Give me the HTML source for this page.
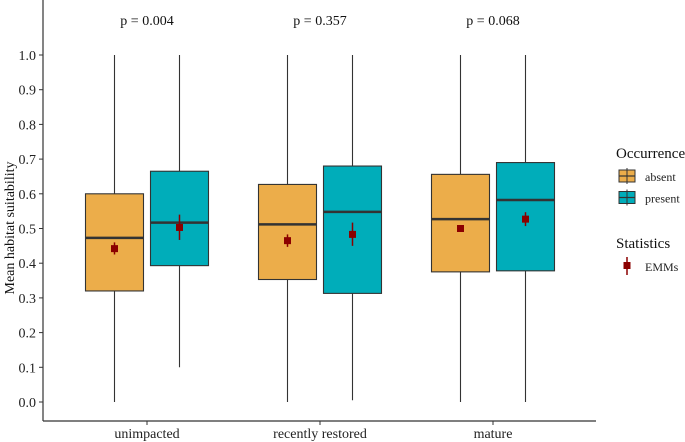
<!DOCTYPE html>
<html><head><meta charset="utf-8"><style>
body{margin:0;background:#fff}
svg{font-family:"Liberation Serif",serif;display:block}
</style></head><body>
<svg id="chart" width="685" height="442"></svg>
<script>
const categories=["unimpacted","recently restored","mature"];
const pvalues=["p = 0.004","p = 0.357","p = 0.068"];
const groups=["absent","present"];
const whiskLo=[[0,0.10],[0,0.005],[0,0]];
const whiskHi=[[1,1],[1,1],[1,1]];
const q1=[[0.32,0.393],[0.353,0.313],[0.375,0.378]];
const med=[[0.473,0.517],[0.512,0.548],[0.527,0.582]];
const q3=[[0.60,0.665],[0.627,0.68],[0.656,0.69]];
const emm=[[0.442,0.503],[0.465,0.483],[0.500,0.527]];
const ciLo=[[0.425,0.467],[0.447,0.45],[0.49,0.507]];
const ciHi=[[0.46,0.54],[0.483,0.517],[0.51,0.547]];
const yTicks=[0,0.1,0.2,0.3,0.4,0.5,0.6,0.7,0.8,0.9,1.0];
const colors=["#ecad4a","#00adba"];

const svg=document.getElementById('chart');
const NS="http://www.w3.org/2000/svg";
function mk(t,a,p){const e=document.createElementNS(NS,t);for(const k in a)e.setAttribute(k,a[k]);(p||svg).appendChild(e);return e;}
const y=v=>402-v*347;
const x=i=>147+i*173;
const off=[-32.5,32.5], bw=58;

const yaxis=mk('line',{x1:43,y1:0,x2:43,y2:421,stroke:'#333','stroke-width':1.2});


const xaxis=mk('line',{x1:43,y1:421,x2:596,y2:421,stroke:'#333','stroke-width':1.2});


yTicks.forEach(v=>{
  mk('line',{x1:39,x2:43,y1:y(v),y2:y(v),stroke:'#333'});
  const t=mk('text',{x:36,y:y(v)+5,'text-anchor':'end','font-size':14,fill:'#222'});
  t.textContent=v.toFixed(1);
  
  
});
const yt=mk('text',{x:0,y:0,transform:'translate(14,228) rotate(-90)','text-anchor':'middle','font-size':14,fill:'#111'});
yt.textContent='Mean habitat suitability';



categories.forEach((c,i)=>{
  mk('line',{x1:x(i),x2:x(i),y1:421,y2:425,stroke:'#333'});
  const t=mk('text',{x:x(i),y:438,'text-anchor':'middle','font-size':14,fill:'#222'});
  t.textContent=c;
  
  
  const p=mk('text',{x:x(i),y:25,'text-anchor':'middle','font-size':14,fill:'#111'});
  p.textContent=pvalues[i];
  
  
  groups.forEach((g,j)=>{
    const cx=x(i)+off[j];
    const gEl=mk('g',{});
    
    
    mk('line',{x1:cx,x2:cx,y1:y(whiskLo[i][j]),y2:y(whiskHi[i][j]),stroke:'#333','stroke-width':1.1},gEl);
    mk('rect',{x:cx-bw/2,y:y(q3[i][j]),width:bw,height:y(q1[i][j])-y(q3[i][j]),fill:colors[j],stroke:'#333','stroke-width':1.1},gEl);
    mk('line',{x1:cx-bw/2,x2:cx+bw/2,y1:y(med[i][j]),y2:y(med[i][j]),stroke:'#333','stroke-width':2.5},gEl);
    mk('line',{x1:cx,x2:cx,y1:y(ciLo[i][j]),y2:y(ciHi[i][j]),stroke:'#8b0000','stroke-width':1.5},gEl);
    const m=mk('rect',{x:cx-3.5,y:y(emm[i][j])-3.5,width:7,height:7,fill:'#8b0000'},gEl);
    
    
  });
});

// legend
const lg=mk('g',{});


const lt=mk('text',{x:616,y:158,'font-size':15,fill:'#111'},lg);lt.textContent='Occurrence';
groups.forEach((g,j)=>{
  const cy=176+j*21.5;
  const e=mk('g',{},lg);
  
  
  mk('rect',{x:619,y:cy-6,width:16,height:12,fill:colors[j],stroke:'#333'},e);
  mk('line',{x1:619,x2:635,y1:cy,y2:cy,stroke:'#333','stroke-width':1.2},e);
  mk('line',{x1:627,x2:627,y1:cy-8,y2:cy+8,stroke:'#333'},e);
  const t=mk('text',{x:645,y:cy+5,'font-size':12,fill:'#222'},e);t.textContent=g;
});
const st=mk('text',{x:616,y:248,'font-size':15,fill:'#111'},lg);st.textContent='Statistics';
const ee=mk('g',{},lg);


mk('line',{x1:627,x2:627,y1:257,y2:275,stroke:'#8b0000','stroke-width':1.5},ee);
mk('rect',{x:623.5,y:262,width:7,height:7,fill:'#8b0000'},ee);
const et=mk('text',{x:645,y:271,'font-size':12,fill:'#222'},ee);et.textContent='EMMs';
</script>
</body></html>
